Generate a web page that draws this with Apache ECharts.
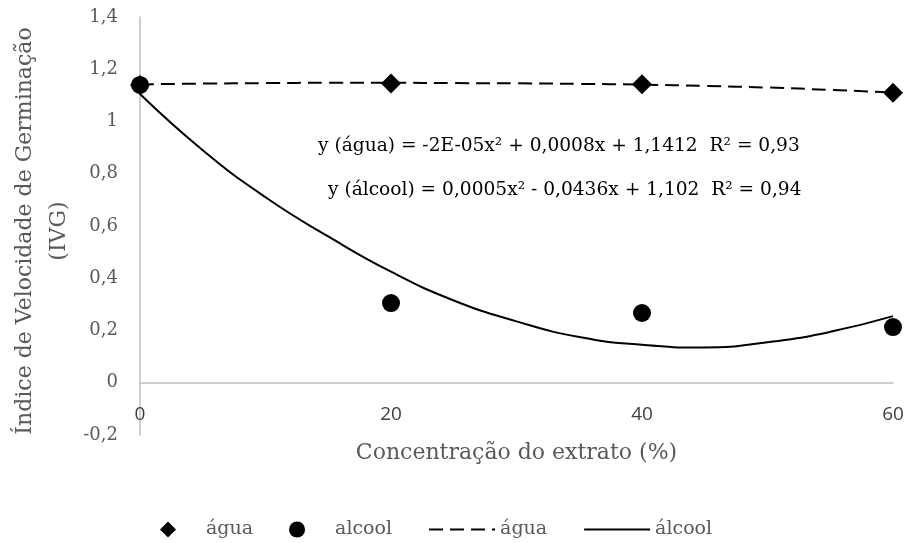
<!DOCTYPE html>
<html>
<head>
<meta charset="utf-8">
<script src="https://cdn.jsdelivr.net/npm/echarts@6/dist/echarts.min.js"></script>
<style>
  html, body { margin: 0; padding: 0; background: #fff; }
  #chart { width: 907px; height: 543px; }
</style>
</head>
<body>
<div id="chart"></div>
<script>
// concentrações do extrato (%)
const concentracoes = [0, 20, 40, 60];
// IVG observado
const aguaObs = [1.14, 1.145, 1.143, 1.11];
const alcoolObs = [1.14, 0.305, 0.267, 0.213];
// pontos lidos sobre as curvas de tendência (polinomial)
const tendX = [0, 5, 10, 15, 20, 25, 30, 35, 40, 45, 50, 55, 60];
const aguaTend = [1.142, 1.145, 1.147, 1.148, 1.148, 1.147, 1.146, 1.144, 1.141, 1.136, 1.130, 1.121, 1.111];
const alcoolTend = [1.105, 0.89, 0.71, 0.56, 0.425, 0.315, 0.235, 0.175, 0.145, 0.135, 0.155, 0.195, 0.255];
const equacoes = [
  'y (água) = -2E-05x² + 0,0008x + 1,1412  R² = 0,93',
  'y (álcool) = 0,0005x² - 0,0436x + 1,102  R² = 0,94'
];

const nomesLegenda = {
  'água': 'água',
  'alcool': 'alcool',
  'água-tend': 'água',
  'álcool-tend': 'álcool'
};

const pares = (xs, ys) => xs.map((x, i) => [x, ys[i]]);
const virgula = v => String(+v.toFixed(1)).replace('.', ',');

const serif = 'DejaVu Serif';
const chart = echarts.init(document.getElementById('chart'));

// o eixo x fica na linha do zero: 0,2 de 1,6 acima da base da grade
const alturaGrade = 543 - 17 - 108;
const deslocX = -alturaGrade * 0.2 / 1.6;

const semMarcador = { color: 'rgba(0,0,0,0)', borderWidth: 0 };
// losango como path para não ser esticado no ícone da legenda
const losango = 'path://M0,8L8,0L16,8L8,16Z';

chart.setOption({
  animation: false,
  backgroundColor: '#fff',
  grid: { left: 140, right: 14, top: 17, bottom: 108, containLabel: false },
  xAxis: {
    type: 'value',
    min: 0, max: 60, interval: 20,
    offset: deslocX,
    axisLine: { onZero: false, lineStyle: { color: '#bfbfbf', width: 1.5 } },
    axisTick: { show: false },
    splitLine: { show: false },
    axisLabel: { margin: 22, color: '#404040', fontFamily: 'Open Sans', fontSize: 19 },
    name: 'Concentração do extrato (%)',
    nameLocation: 'middle',
    nameGap: 60,
    nameTextStyle: { color: '#595959', fontFamily: serif, fontSize: 22 }
  },
  yAxis: {
    type: 'value',
    min: -0.2, max: 1.4, interval: 0.2,
    axisLine: { show: true, onZero: false, lineStyle: { color: '#bfbfbf', width: 1.5 } },
    axisTick: { show: false },
    splitLine: { show: false },
    axisLabel: {
      margin: 22, color: '#595959', fontFamily: serif, fontSize: 18,
      formatter: virgula
    }
  },
  legend: {
    top: 515,
    left: 155,
    itemWidth: 66,
    itemHeight: 16,
    itemGap: 36,
    symbolKeepAspect: true,
    textStyle: { color: '#595959', fontFamily: serif, fontSize: 19 },
    formatter: n => nomesLegenda[n],
    data: [
      { name: 'água', icon: losango },
      'alcool',
      { name: 'água-tend', itemStyle: semMarcador },
      { name: 'álcool-tend', itemStyle: semMarcador }
    ]
  },
  graphic: [
    {
      type: 'text',
      x: 42, y: 231,
      rotation: Math.PI / 2,
      style: {
        text: 'Índice de Velocidade de Germinação\n(IVG)',
        fill: '#595959',
        font: '22px "DejaVu Serif"',
        align: 'center',
        verticalAlign: 'middle',
        lineHeight: 34
      }
    },
    {
      type: 'text', x: 318, y: 146,
      style: { text: equacoes[0], fill: '#000', font: '18.6px "DejaVu Serif"', verticalAlign: 'middle' }
    },
    {
      type: 'text', x: 328, y: 190,
      style: { text: equacoes[1], fill: '#000', font: '18.6px "DejaVu Serif"', verticalAlign: 'middle' }
    }
  ],
  series: [
    {
      name: 'água-tend',
      type: 'line',
      data: pares(tendX, aguaTend),
      smooth: true,
      symbol: 'none',
      lineStyle: { color: '#000', width: 2, type: [14, 7] },
      itemStyle: { color: '#000' },
      z: 2
    },
    {
      name: 'álcool-tend',
      type: 'line',
      data: pares(tendX, alcoolTend),
      smooth: true,
      symbol: 'none',
      lineStyle: { color: '#000', width: 2 },
      itemStyle: { color: '#000' },
      z: 2
    },
    {
      name: 'água',
      type: 'scatter',
      symbol: 'diamond',
      symbolSize: 20,
      data: pares(concentracoes, aguaObs),
      itemStyle: { color: '#000', opacity: 1 },
      z: 3
    },
    {
      name: 'alcool',
      type: 'scatter',
      symbol: 'circle',
      symbolSize: 18,
      data: pares(concentracoes, alcoolObs),
      itemStyle: { color: '#000', opacity: 1 },
      z: 4
    }
  ]
});
</script>
</body>
</html>
